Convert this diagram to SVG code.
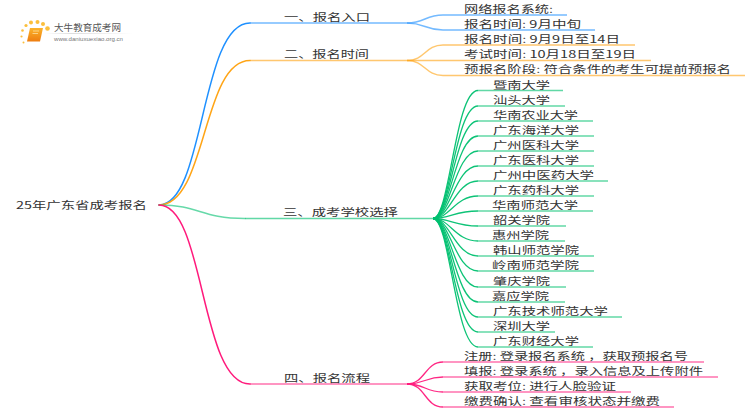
<svg xmlns="http://www.w3.org/2000/svg" width="750" height="410" viewBox="0 0 750 410">
<style>
text{font-family:"Noto Sans CJK SC","Liberation Sans",sans-serif;font-size:9.8px;fill:#333}
.c{fill:none;stroke-width:1.5;stroke-linecap:round}
.l{fill:none;stroke-width:1.5;stroke-opacity:.62}
.h{fill:none;stroke-width:1.3;stroke-opacity:.95}
.b{stroke:#1e90ff}.o{stroke:#ffa516}.g{stroke:#00c070}.p{stroke:#ff1a7c}
</style>
<defs><linearGradient id="sh"><stop offset="0" stop-color="#ddd" stop-opacity="0"/><stop offset=".3" stop-color="#ddd"/><stop offset="1" stop-color="#ddd" stop-opacity="0"/></linearGradient>
<linearGradient id="bk" x1="0" y1="0" x2="0" y2="1"><stop offset="0" stop-color="#fbb32a"/><stop offset="1" stop-color="#ee7d10"/></linearGradient></defs>
<rect width="750" height="410" fill="#fff"/>
<g id="connectors">
<path class="c b" d="M159 205C205 205 200 23 250 23"/>
<path class="c o" d="M159 205C207 205 202 60.500 250 60.500"/>
<path class="c g" stroke-opacity=".6" d="M159 205C200 205 200 218.500 245 218.500"/>
<path class="c p" d="M159 205C205 205 200 384 250 384"/>
<path class="l b" d="M250 23H407C425 23 425 15 443 15H567"/>
<path class="l b" d="M407 23C425 23 425 30 443 30H595"/>
<path class="l o" d="M250 60.500H407C425 60.500 425 45 443 45H635"/>
<path class="l o" d="M407 60.500H651"/>
<path class="l o" d="M407 60.500C425 60.500 425 75.500 443 75.500H745"/>
<path class="l g" d="M245 218.500H433"/>
<path class="l p" d="M250 384H407"/>
<path class="h g" d="M433 218.500C450 218.500 455 90.500 478 90.500"/><path class="l g" d="M478 90.500H563"/>
<path class="h g" d="M433 218.500C450 218.500 455 106 478 106"/><path class="l g" d="M478 106H565"/>
<path class="h g" d="M433 218.500C450 218.500 455 121 478 121"/><path class="l g" d="M478 121H593"/>
<path class="h g" d="M433 218.500C450 218.500 455 136 478 136"/><path class="l g" d="M478 136H594"/>
<path class="h g" d="M433 218.500C450 218.500 455 151 478 151"/><path class="l g" d="M478 151H594"/>
<path class="h g" d="M433 218.500C450 218.500 455 166 478 166"/><path class="l g" d="M478 166H594"/>
<path class="h g" d="M433 218.500C450 218.500 455 181 478 181"/><path class="l g" d="M478 181H608"/>
<path class="h g" d="M433 218.500C450 218.500 455 196 478 196"/><path class="l g" d="M478 196H594"/>
<path class="h g" d="M433 218.500C450 218.500 455 211 478 211"/><path class="l g" d="M478 211H593"/>
<path class="h g" d="M433 218.500C450 218.500 455 226 478 226"/><path class="l g" d="M478 226H566"/>
<path class="h g" d="M433 218.500C450 218.500 455 241 478 241"/><path class="l g" d="M478 241H565"/>
<path class="h g" d="M433 218.500C450 218.500 455 256 478 256"/><path class="l g" d="M478 256H594"/>
<path class="h g" d="M433 218.500C450 218.500 455 271 478 271"/><path class="l g" d="M478 271H594"/>
<path class="h g" d="M433 218.500C450 218.500 455 287 478 287"/><path class="l g" d="M478 287H566"/>
<path class="h g" d="M433 218.500C450 218.500 455 302 478 302"/><path class="l g" d="M478 302H565"/>
<path class="h g" d="M433 218.500C450 218.500 455 317 478 317"/><path class="l g" d="M478 317H622"/>
<path class="h g" d="M433 218.500C450 218.500 455 332 478 332"/><path class="l g" d="M478 332H555"/>
<path class="h g" d="M433 218.500C450 218.500 455 347 478 347"/><path class="l g" d="M478 347H593"/>
<path class="h p" stroke-opacity=".85" d="M407 384C425 384 425 362 443 362"/><path class="l p" d="M443 362H704"/>
<path class="h p" stroke-opacity=".85" d="M407 384C425 384 425 377 443 377"/><path class="l p" d="M443 377H718"/>
<path class="h p" stroke-opacity=".85" d="M407 384C425 384 425 392 443 392"/><path class="l p" d="M443 392H631"/>
<path class="h p" stroke-opacity=".85" d="M407 384C425 384 425 407 443 407"/><path class="l p" d="M443 407H674"/>
</g>
<g id="logo">
<g fill="#fbbf3c"><circle cx="47.500" cy="28.500" r="2.300"/><circle cx="43" cy="24" r="2"/><circle cx="37.500" cy="22" r="2"/><circle cx="31" cy="22.500" r="2"/><circle cx="26" cy="25.500" r="1.600"/><circle cx="22.500" cy="30.500" r="1.300"/><circle cx="21.500" cy="36.500" r="1.100"/><circle cx="23.500" cy="42.500" r="1"/></g>
<path d="M30 28H43L40 41.500H27Z" fill="url(#bk)"/>
<path d="M33 31H39M32.500 33.500H38" stroke="#fde0a0" stroke-width=".8" fill="none"/>
<rect x="45" y="33" width="88" height="1" fill="url(#sh)"/>
<text x="54" y="31" textLength="67" lengthAdjust="spacingAndGlyphs" style="font-size:9.500px;fill:#555">大牛教育成考网</text>
<text x="54" y="41" textLength="69" lengthAdjust="spacingAndGlyphs" style="font-size:5.500px;fill:#777;font-family:'Liberation Sans',sans-serif">www.daniuxuexiao.org.cn</text>
</g>
<g id="root"><text x="16" y="209" textLength="131" lengthAdjust="spacingAndGlyphs">25年广东省成考报名</text></g>
<g id="b1"><text x="284" y="20.500" textLength="86" lengthAdjust="spacingAndGlyphs">一、报名入口</text></g>
<g id="b2"><text x="284" y="58" textLength="85" lengthAdjust="spacingAndGlyphs">二、报名时间</text></g>
<g id="b3"><text x="283" y="216" textLength="115" lengthAdjust="spacingAndGlyphs">三、成考学校选择</text></g>
<g id="b4"><text x="284" y="382" textLength="86" lengthAdjust="spacingAndGlyphs">四、报名流程</text></g>
<g id="n1"><text x="464" y="13" textLength="89" lengthAdjust="spacingAndGlyphs">网络报名系统:</text></g>
<g id="n2"><text x="464" y="28" textLength="117" lengthAdjust="spacingAndGlyphs">报名时间: 9月中旬</text></g>
<g id="n3"><text x="464" y="43" textLength="156" lengthAdjust="spacingAndGlyphs">报名时间: 9月9日至14日</text></g>
<g id="n4"><text x="464" y="58" textLength="172" lengthAdjust="spacingAndGlyphs">考试时间: 10月18日至19日</text></g>
<g id="n5"><text x="464" y="73" textLength="267" lengthAdjust="spacingAndGlyphs">预报名阶段: 符合条件的考生可提前预报名</text></g>
<g id="s1"><text x="493" y="88.500" textLength="57" lengthAdjust="spacingAndGlyphs">暨南大学</text></g>
<g id="s2"><text x="493" y="104" textLength="57" lengthAdjust="spacingAndGlyphs">汕头大学</text></g>
<g id="s3"><text x="493" y="119" textLength="85" lengthAdjust="spacingAndGlyphs">华南农业大学</text></g>
<g id="s4"><text x="493" y="134" textLength="86" lengthAdjust="spacingAndGlyphs">广东海洋大学</text></g>
<g id="s5"><text x="493" y="149" textLength="86" lengthAdjust="spacingAndGlyphs">广州医科大学</text></g>
<g id="s6"><text x="493" y="164" textLength="86" lengthAdjust="spacingAndGlyphs">广东医科大学</text></g>
<g id="s7"><text x="493" y="179" textLength="101" lengthAdjust="spacingAndGlyphs">广州中医药大学</text></g>
<g id="s8"><text x="493" y="194" textLength="86" lengthAdjust="spacingAndGlyphs">广东药科大学</text></g>
<g id="s9"><text x="492" y="209" textLength="86" lengthAdjust="spacingAndGlyphs">华南师范大学</text></g>
<g id="s10"><text x="493" y="224" textLength="57" lengthAdjust="spacingAndGlyphs">韶关学院</text></g>
<g id="s11"><text x="492" y="239" textLength="57" lengthAdjust="spacingAndGlyphs">惠州学院</text></g>
<g id="s12"><text x="493" y="254" textLength="86" lengthAdjust="spacingAndGlyphs">韩山师范学院</text></g>
<g id="s13"><text x="492" y="269" textLength="87" lengthAdjust="spacingAndGlyphs">岭南师范学院</text></g>
<g id="s14"><text x="493" y="284.500" textLength="57" lengthAdjust="spacingAndGlyphs">肇庆学院</text></g>
<g id="s15"><text x="492" y="300" textLength="57" lengthAdjust="spacingAndGlyphs">嘉应学院</text></g>
<g id="s16"><text x="493" y="315" textLength="115" lengthAdjust="spacingAndGlyphs">广东技术师范大学</text></g>
<g id="s17"><text x="493" y="330" textLength="57" lengthAdjust="spacingAndGlyphs">深圳大学</text></g>
<g id="s18"><text x="493" y="345" textLength="86" lengthAdjust="spacingAndGlyphs">广东财经大学</text></g>
<g id="p1"><text x="464" y="360" textLength="224" lengthAdjust="spacingAndGlyphs">注册: 登录报名系统 ，获取预报名号</text></g>
<g id="p2"><text x="464" y="375" textLength="239" lengthAdjust="spacingAndGlyphs">填报: 登录系统 ，录入信息及上传附件</text></g>
<g id="p3"><text x="464" y="390" textLength="152" lengthAdjust="spacingAndGlyphs">获取考位: 进行人脸验证</text></g>
<g id="p4"><text x="464" y="405" textLength="196" lengthAdjust="spacingAndGlyphs">缴费确认: 查看审核状态并缴费</text></g>
</svg>
